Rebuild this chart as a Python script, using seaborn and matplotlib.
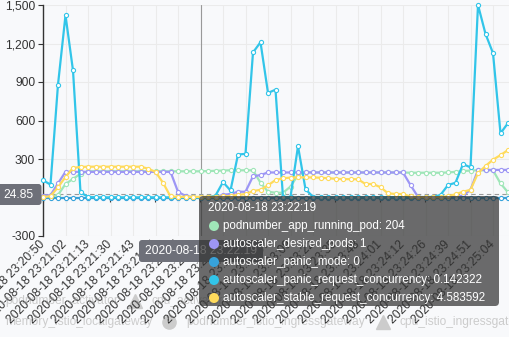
import matplotlib
matplotlib.use("Agg")
import matplotlib.pyplot as plt
import seaborn as sns
import pandas as pd
from matplotlib.patches import FancyBboxPatch, Circle
from matplotlib.lines import Line2D
from matplotlib.transforms import Affine2D
from matplotlib.ticker import FuncFormatter

# ---------------- data ----------------
tick_labels = [
    "2020-08-18 23:20:50", "2020-08-18 23:21:02", "2020-08-18 23:21:13",
    "2020-08-18 23:21:30", "2020-08-18 23:21:43", "2020-08-18 23:21:55",
    "2020-08-18 23:22:07", "2020-08-18 23:22:19", "2020-08-18 23:22:32",
    "2020-08-18 23:22:44", "2020-08-18 23:22:57", "2020-08-18 23:23:09",
    "2020-08-18 23:23:22", "2020-08-18 23:23:35", "2020-08-18 23:23:48",
    "2020-08-18 23:24:01", "2020-08-18 23:24:12", "2020-08-18 23:24:26",
    "2020-08-18 23:24:39", "2020-08-18 23:24:51", "2020-08-18 23:25:04",
]

series_names = [
    "podnumber_app_running_pod",
    "autoscaler_desired_pods",
    "autoscaler_panic_mode",
    "autoscaler_panic_request_concurrency",
    "autoscaler_stable_request_concurrency",
]
series_colors = ["#9FE6B8", "#9d96f5", "#37A2DA", "#32C5E9", "#FFDB5C"]

running_pod = ([5, 5, 20, 105, 145, 185] + [204] * 16 +
               [206, 208, 210, 212, 212, 212, 212] +
               [115, 45, 37, 37, 85, 175, 200] + [195] * 13 + [193] * 5 +
               [195, 200, 206, 210, 212, 212, 212, 110, 40])
desired_pods = ([15, 18, 110] + [200] * 15 + [45, 12, 3, 1, 1] +
                [5, 20, 28, 45, 45, 165, 175, 195] + [195] * 18 +
                [97, 5, 2, 2, 2, 2, 3, 15] + [60, 215, 215, 215, 215, 215])
panic_mode = [0] * 63
panic_conc = ([135, 100, 880, 1420, 990, 40, 5] +
              [2, 1, 1, 2, 1, 1, 1, 2, 1, 1, 1, 1, 1, 1, 0.142322, 1] +
              [15, 120, 55, 335, 340, 1130, 1210, 815, 840, 2, 5, 400, 65, 5] +
              [3, 2, 2, 1, 1, 1, 2, 1, 1, 1, 2, 2, 3, 3, 4, 5] +
              [20, 97, 115, 260, 235, 1500, 1275, 1125, 500, 580])
stable_conc = ([3, 10, 80, 160, 230, 238] + [240] * 8 +
               [225, 200, 115, 8] +
               [5, 5, 5, 4.583592, 5, 6, 8, 12, 20] +
               [27, 50, 60, 95, 136, 150, 155, 157] +
               [157, 156, 154, 150, 146, 143, 143, 142] +
               [105, 105, 80, 33, 27, 27, 8] +
               [3, 3, 3, 3, 10] +
               [25, 45, 60, 190, 245, 295, 330, 370])
series_values = [running_pod, desired_pods, panic_mode, panic_conc, stable_conc]

pointer_index = 21
pointer_value = 24.85

legend_inactive = ["podnumber_activator", "cpu_activator",
                   "memory_istio_localgateway", "podnumber_istio_ingressgateway",
                   "cpu_istio_ingressgateway"]

# ---------------- figure ----------------
W, H = 509, 337
BG = "#f8f9fb"
sns.set_theme(style="white")
plt.rcParams["font.family"] = ["Liberation Sans", "DejaVu Sans"]

fig = plt.figure(figsize=(W / 100, H / 100), dpi=100, facecolor=BG)
ax = fig.add_axes([43 / W, (H - 236) / H, (509 - 43) / W, 231 / H])
ax.set_facecolor(BG)

pix = Affine2D().scale(1 / W, -1 / H).translate(0, 1) + fig.transFigure
FS = 12 * 0.72  # 12px

n = len(running_pod)
idx = list(range(n))
for name, vals, col in zip(series_names, series_values, series_colors):
    df = pd.DataFrame({"i": idx, "v": vals})
    sns.lineplot(data=df, x="i", y="v", ax=ax, color=col, linewidth=1.6,
                 marker="o", markersize=3, markerfacecolor="white",
                 markeredgecolor=col, markeredgewidth=0.8, legend=False,
                 clip_on=False, zorder=3)

ax.set_xlim(0, (509 - 43) / 7.5)
ax.set_ylim(-300, 1500)
ax.set_xlabel("")
ax.set_ylabel("")

# y axis (the 0 label is hidden behind the pointer label in the reference)
ax.set_yticks(range(-300, 1501, 300))
ax.yaxis.set_major_formatter(FuncFormatter(lambda v, p: "" if v == 0 else f"{int(v):,}"))
ax.tick_params(axis="y", length=3.6, width=0.8, color="#333333",
               labelsize=FS, labelcolor="#333333", pad=2, left=True)

# x axis
xt = list(range(0, 3 * len(tick_labels), 3))
ax.set_xticks(xt)
ax.set_xticklabels(tick_labels, rotation=45, ha="right", va="center",
                   rotation_mode="anchor", fontsize=FS, color="#333333")
ax.tick_params(axis="x", length=0, pad=5)

sec = ax.secondary_xaxis(300 / 1800)
sec.set_xticks(xt)
sec.tick_params(axis="x", length=3.6, width=0.8, color="#333333",
                labelbottom=False, labeltop=False, direction="out")
for s in sec.spines.values():
    s.set_visible(False)

for s in ["top", "right", "bottom"]:
    ax.spines[s].set_visible(False)
ax.spines["left"].set_color("#333333")
ax.spines["left"].set_linewidth(1)

ax.grid(True, color="#ebebeb", linewidth=0.8)
ax.set_axisbelow(True)

# axis pointer lines
ax.axvline(pointer_index, color="#999999", linewidth=0.8, zorder=2)
ax.axhline(pointer_value, color="#9a9a9a", linewidth=0.8,
           linestyle=(0, (4, 3)), zorder=2)

# pointer labels
fig.add_artist(FancyBboxPatch((-6, 184), 47.5, 21,
                              boxstyle="round,pad=0,rounding_size=3",
                              fc="#6E7079", ec="none", transform=pix, zorder=8))
fig.text(18.5, 194.8, f"{pointer_value:g}", color="white", fontsize=FS,
         ha="center", va="center", transform=pix, zorder=9)

fig.add_artist(FancyBboxPatch((139, 240), 124, 22,
                              boxstyle="round,pad=0,rounding_size=3",
                              fc="#6E7079", ec="none", transform=pix, zorder=8))
fig.text(201, 251, tick_labels[pointer_index // 3], color="white",
         fontsize=FS, ha="center", va="center", transform=pix, zorder=9)

# inactive legend (grey)
LC = "#cccccc"
leg_items = [(legend_inactive[0], 5, 301, None),
             (legend_inactive[1], 152, 301, "^"),
             (legend_inactive[2], 5, 322, None),
             (legend_inactive[3], 186, 322, "o"),
             (legend_inactive[4], 400, 322, "^")]
for text, x, y, mk in leg_items:
    fig.text(x, y, text, color=LC, fontsize=FS, ha="left", va="center",
             transform=pix, zorder=-1)
    if mk is not None:
        fig.add_artist(Line2D([x - 17], [y], marker=mk, markersize=10 if mk == "^" else 9.5,
                              color=LC, linestyle="none", transform=pix, zorder=-1))

# tooltip
fig.add_artist(FancyBboxPatch((199, 196), 300, 110,
                              boxstyle="round,pad=0,rounding_size=4",
                              fc=(0.2, 0.2, 0.2, 0.72), ec="none",
                              transform=pix, zorder=10))
TFS = 11.6 * 0.72
fig.text(208, 208, tick_labels[pointer_index // 3], color="white",
         fontsize=TFS, ha="left", va="center", transform=pix, zorder=11)


def fmt(v):
    return ("%f" % v).rstrip("0").rstrip(".")


row_y = [226, 244, 262, 280, 298]
for ry, name, vals, col in zip(row_y, series_names, series_values, series_colors):
    fig.add_artist(Circle((214, ry), 5, fc=col, ec="none", transform=pix, zorder=11))
    fig.text(223, ry, f"{name}: {fmt(vals[pointer_index])}", color="white",
             fontsize=TFS, ha="left", va="center", transform=pix, zorder=11)

fig.savefig("out.png", dpi=100, facecolor=BG)
